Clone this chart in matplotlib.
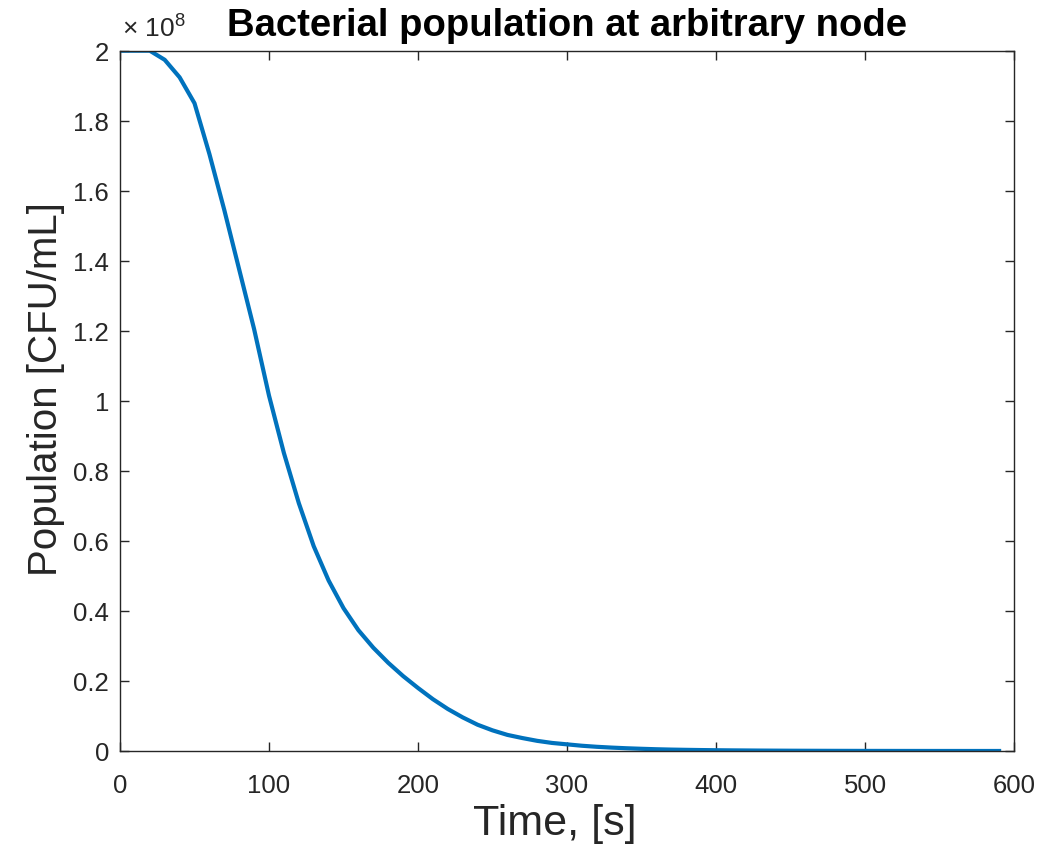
import matplotlib
matplotlib.use("Agg")
import matplotlib.pyplot as plt
from matplotlib.ticker import FixedLocator, FuncFormatter

plt.rcParams['font.family'] = ['Liberation Sans', 'DejaVu Sans']
plt.rcParams['mathtext.fontset'] = 'custom'
plt.rcParams['mathtext.rm'] = 'Liberation Sans'

# ---- data ----
time_s = [0, 10, 20, 30, 40, 50, 60, 70, 80, 90, 100, 110, 120, 130, 140, 150,
          160, 170, 180, 190, 200, 210, 220, 230, 240, 250, 260, 270, 280, 290,
          300, 310, 320, 330, 340, 350, 360, 370, 380, 390, 400, 410, 420, 430,
          440, 450, 460, 470, 480, 490, 500, 510, 520, 530, 540, 550, 560, 570,
          580, 590]
population_e8 = [2.000, 2.000, 2.000, 1.974, 1.924, 1.850, 1.705, 1.545, 1.375,
                 1.205, 1.015, 0.851, 0.708, 0.585, 0.487, 0.408, 0.345, 0.295,
                 0.252, 0.214, 0.180, 0.148, 0.120, 0.096, 0.075, 0.059, 0.046,
                 0.037, 0.029, 0.023, 0.019, 0.015, 0.012, 0.0097, 0.0078,
                 0.0063, 0.0050, 0.0040, 0.0033, 0.0027, 0.0022, 0.0018, 0.0015,
                 0.0012, 0.0010, 0.0008, 0.00065, 0.00053, 0.00043, 0.00035,
                 0.00028, 0.00023, 0.00019, 0.00015, 0.00012, 0.0001, 0.00008,
                 0.000065, 0.00005, 0.00004]
POP_SCALE = 1e8
population = [v * POP_SCALE for v in population_e8]

x_ticks = [0, 100, 200, 300, 400, 500, 600]
y_ticks_e8 = [0, 0.2, 0.4, 0.6, 0.8, 1.0, 1.2, 1.4, 1.6, 1.8, 2.0]

title_text = "Bacterial population at arbitrary node"
x_label = "Time, [s]"
y_label = "Population [CFU/mL]"

# ---- styling ----
axis_col = '#262626'
line_col = '#0072BD'

fig = plt.figure(figsize=(10.59, 8.54), dpi=100)
ax = fig.add_axes([120/1059, 1 - 752/854, (1014-120)/1059, (752-51.7)/854])

ax.plot(time_s, population, color=line_col, linewidth=3.0, solid_joinstyle='round')

ax.set_xlim(0, 600)
ax.set_ylim(0, 2e8)
ax.xaxis.set_major_locator(FixedLocator(x_ticks))
ax.yaxis.set_major_locator(FixedLocator([v * POP_SCALE for v in y_ticks_e8]))

def fmt_y(v, pos):
    s = ('%.1f' % (v / POP_SCALE)).rstrip('0').rstrip('.')
    return s
ax.yaxis.set_major_formatter(FuncFormatter(fmt_y))
ax.xaxis.set_major_formatter(FuncFormatter(lambda v, p: '%d' % v))

for sp in ax.spines.values():
    sp.set_color(axis_col)
    sp.set_linewidth(1.0)

ax.tick_params(axis='both', which='both', direction='in', length=6.5, width=1.0,
               color=axis_col, labelcolor=axis_col, labelsize=18.5,
               top=True, right=True)
ax.tick_params(axis='x', pad=16)
ax.tick_params(axis='y', pad=8)

ax.annotate(r'$\times$ $\mathregular{10^{8}}$', xy=(0, 1), xycoords='axes fraction',
            xytext=(1.5, 10.5), textcoords='offset points',
            ha='left', va='baseline', fontsize=19, color=axis_col)

ax.set_title(title_text, fontsize=27.5, fontweight='bold', color='black', pad=11)
ax.set_xlabel(x_label, fontsize=31, color=axis_col, labelpad=4)
ax.set_ylabel(y_label, fontsize=29, color=axis_col, labelpad=6)
ax.xaxis.label.set_x((555 - 120) / 894)
ax.yaxis.label.set_y((752 - 389) / 700.3)

fig.savefig('out.png', dpi=100, facecolor='white')
